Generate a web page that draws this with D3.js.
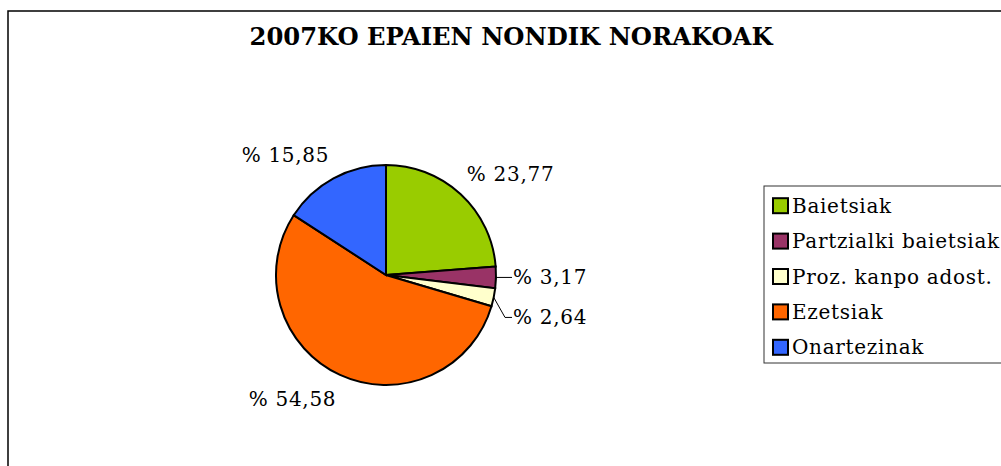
<html>
<head>
<title>2007KO EPAIEN NONDIK NORAKOAK</title>
<style type="text/css">
	body{
		margin: 0;
		background-color: #fff;
	}
	svg text{
		font-family: "DejaVu Serif", serif;
		fill: #000;
	}
	.slice{
		stroke: #000;
		stroke-width: 2px;
	}
	.pieLabel, .legendLabel{
		font-size: 20px;
		letter-spacing: 0.7px;
	}
	.leader{
		fill: none;
		stroke: #000;
		stroke-width: 1px;
	}
</style>
<script type="text/javascript" src="https://d3js.org/d3.v7.min.js"></script>
</head>
<body>
<div id="chart"></div>
<script type="text/javascript">
	var categories = ['Baietsiak', 'Partzialki baietsiak', 'Proz. kanpo adost.', 'Ezetsiak', 'Onartezinak'];
	var values = [23.77, 3.17, 2.64, 54.58, 15.85];
	var labels = ['% 23,77', '% 3,17', '% 2,64', '% 54,58', '% 15,85'];
	var colors = ['#99CC00', '#993366', '#FFFFCC', '#FF6600', '#3366FF'];

	var width = 1001, height = 466;
	var cx = 386, cy = 275, radius = 110;

	var svg = d3.select('#chart')
		.append('svg')
		.attr('width', width)
		.attr('height', height);

	// outer chart frame (runs off the right and bottom edge)
	svg.append('rect')
		.attr('x', 8)
		.attr('y', 11)
		.attr('width', 1100)
		.attr('height', 600)
		.attr('fill', '#fff')
		.attr('stroke', '#000')
		.attr('stroke-width', 1.5);

	svg.append('text')
		.attr('x', 511)
		.attr('y', 45)
		.attr('text-anchor', 'middle')
		.attr('textLength', 523)
		.attr('lengthAdjust', 'spacingAndGlyphs')
		.style('font-size', '25px')
		.style('font-weight', 'bold')
		.style('font-stretch', 'condensed')
		.text('2007KO EPAIEN NONDIK NORAKOAK');

	var data = categories.map(function(c, i){
		return {name: c, value: values[i], label: labels[i], color: colors[i]};
	});

	var pie = d3.pie()
		.sort(null)
		.value(function(d){ return d.value; });

	var arc = d3.arc()
		.innerRadius(0)
		.outerRadius(radius);

	var arcs = pie(data);

	var g = svg.append('g')
		.attr('transform', 'translate(' + cx + ',' + cy + ')');

	g.selectAll('.slice')
		.data(arcs)
		.enter()
		.append('path')
		.attr('class', 'slice')
		.attr('d', arc)
		.attr('fill', function(d){ return d.data.color; });

	// labels: big slices outside along the mid angle, small slices with leader lines
	var lastSmallY = -Infinity;
	arcs.forEach(function(d){
		var a = (d.startAngle + d.endAngle) / 2;
		var sx = Math.sin(a), sy = -Math.cos(a);
		if(d.data.value < 5){
			var ex = radius * sx, ey = radius * sy;
			var ly = Math.max(ey, lastSmallY + 40);
			lastSmallY = ly;
			var lx = radius + 16;
			var path = ly > ey + 1
				? 'M' + ex + ',' + ey + 'L' + (lx - 7) + ',' + ly + 'L' + lx + ',' + ly
				: 'M' + ex + ',' + ey + 'L' + lx + ',' + ly;
			g.append('path').attr('class', 'leader').attr('d', path);
			g.append('text')
				.attr('class', 'pieLabel')
				.attr('x', lx + 1)
				.attr('y', ly)
				.attr('dy', '0.35em')
				.text(d.data.label);
		} else {
			g.append('text')
				.attr('class', 'pieLabel')
				.attr('x', (radius + 9) * sx)
				.attr('y', (radius + 27) * sy)
				.attr('dy', '0.35em')
				.attr('text-anchor', sx > 0 ? 'start' : 'end')
				.text(d.data.label);
		}
	});

	// legend
	var legend = svg.append('g')
		.attr('transform', 'translate(764,186)');

	legend.append('rect')
		.attr('x', 0)
		.attr('y', 0)
		.attr('width', 400)
		.attr('height', 177)
		.attr('fill', '#fff')
		.attr('stroke', '#333')
		.attr('stroke-width', 1);

	var legendY = d3.scaleBand()
		.domain(categories)
		.range([2, 179]);

	var items = legend.selectAll('.legendItem')
		.data(data)
		.enter()
		.append('g')
		.attr('class', 'legendItem')
		.attr('transform', function(d){
			return 'translate(0,' + (legendY(d.name) + legendY.bandwidth() / 2) + ')';
		});

	items.append('rect')
		.attr('x', 9)
		.attr('y', -7.5)
		.attr('width', 15)
		.attr('height', 15)
		.attr('fill', function(d){ return d.color; })
		.attr('stroke', '#000')
		.attr('stroke-width', 2);

	items.append('text')
		.attr('class', 'legendLabel')
		.attr('x', 28)
		.attr('y', 0)
		.attr('dy', '0.35em')
		.text(function(d){ return d.name; });
</script>
</body>
</html>
